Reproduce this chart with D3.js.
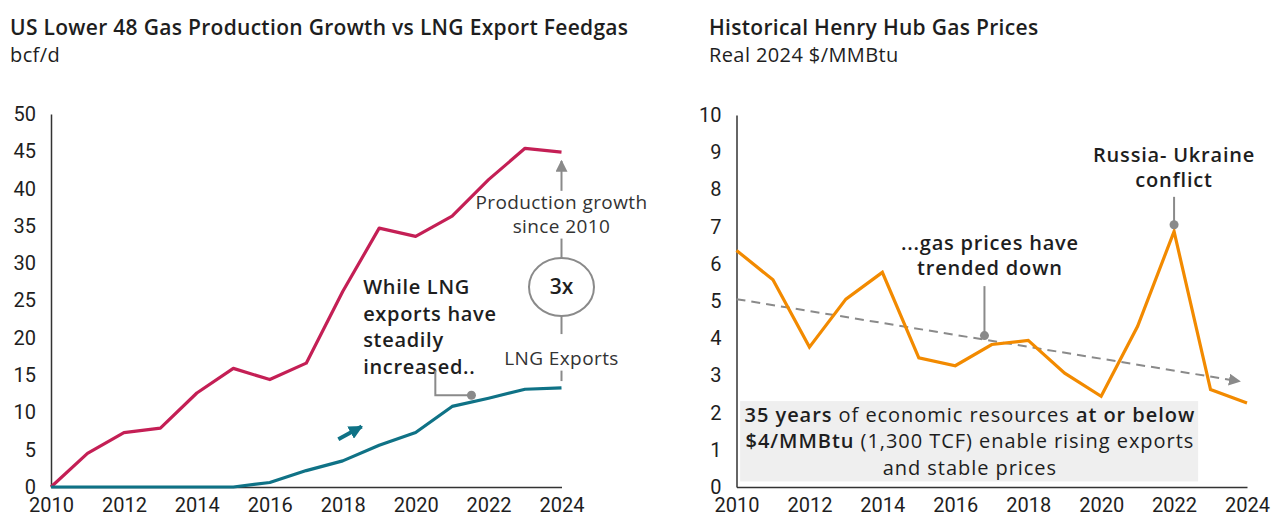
<!DOCTYPE html>
<html><head><meta charset="utf-8">
<script src="https://cdn.jsdelivr.net/npm/d3@7"></script>
<style>
html,body{margin:0;padding:0;background:#fff;}
svg{display:block;font-family:"Open Sans", Roboto, sans-serif;}
</style></head>
<body><svg id="c" width="1273" height="518"></svg>
<script>
// ---------- data ----------
const years = d3.range(2010, 2025);
const production = [0, 4.5, 7.3, 7.9, 12.6, 15.9, 14.4, 16.6, 26.2, 34.7, 33.6, 36.3, 41.2, 45.4, 44.9];
const lngExports = [0, 0, 0, 0, 0, 0, 0.6, 2.2, 3.5, 5.6, 7.3, 10.8, 11.9, 13.1, 13.3];
const henryHub = [6.36, 5.57, 3.76, 5.05, 5.77, 3.47, 3.26, 3.83, 3.94, 3.06, 2.44, 4.32, 6.87, 2.62, 2.26];
const trendStart = [2010, 5.05];
const trendEnd = [2023.8, 2.84];
const leftYTicks = [0, 5, 10, 15, 20, 25, 30, 35, 40, 45, 50];
const rightYTicks = [0, 1, 2, 3, 4, 5, 6, 7, 8, 9, 10];
const xTicks = [2010, 2012, 2014, 2016, 2018, 2020, 2022, 2024];

const svg = d3.select("#c");
const RED = "#c41f55", TEAL = "#0f7286", ORANGE = "#f28a00", GRAY = "#8a8a8a", TXT = "#1e1e1e";
const TICKFONT = 'Roboto, "Open Sans", sans-serif';

const defs = svg.append("defs");
function marker(id, color, w, h) {
  defs.append("marker").attr("id", id).attr("viewBox", "0 0 10 10")
    .attr("refX", 9).attr("refY", 5).attr("markerWidth", w).attr("markerHeight", h)
    .attr("markerUnits", "userSpaceOnUse").attr("orient", "auto")
    .append("path").attr("d", "M0,0 L10,5 L0,10 Z").attr("fill", color);
}
marker("arrGray", GRAY, 12, 12);
marker("arrTeal", TEAL, 14, 14);

// ---------- titles ----------
function title(x, t1, t2) {
  svg.append("text").attr("x", x).attr("y", 35).attr("font-size", 21).attr("font-weight", 600)
    .attr("letter-spacing", 0.3).attr("fill", TXT).text(t1);
  svg.append("text").attr("x", x).attr("y", 62).attr("font-size", 20)
    .attr("letter-spacing", 0.4).attr("fill", TXT).text(t2);
}
title(10, "US Lower 48 Gas Production Growth vs LNG Export Feedgas", "bcf/d");
title(709, "Historical Henry Hub Gas Prices", "Real 2024 $/MMBtu");

// ---------- axes helper ----------
function drawAxes(x, y, yt) {
  const g = svg.append("g");
  g.append("g").attr("transform", `translate(0,${y(0)})`)
    .call(d3.axisBottom(x).tickValues(xTicks).tickFormat(d3.format("d")).tickSize(0).tickPadding(11))
    .call(a => a.select(".domain").attr("stroke", "#333").attr("stroke-width", 1.5))
    .call(a => a.selectAll("text").attr("font-size", 20).attr("fill", TXT).attr("font-family", TICKFONT));
  g.append("g").attr("transform", `translate(${x(2010)},0)`)
    .call(d3.axisLeft(y).tickValues(yt).tickFormat(d3.format("d")).tickSize(0).tickPadding(15))
    .call(a => a.select(".domain").attr("stroke", "#333").attr("stroke-width", 1.5))
    .call(a => a.selectAll("text").attr("font-size", 20).attr("fill", TXT).attr("font-family", TICKFONT));
}

// ---------- LEFT CHART ----------
const xL = d3.scaleLinear().domain([2010, 2024]).range([51, 561.5]);
const yL = d3.scaleLinear().domain([0, 50]).range([487, 114]);
drawAxes(xL, yL, leftYTicks);

const lineL = d3.line().x((d, i) => xL(years[i])).y(d => yL(d));
svg.append("path").datum(production).attr("d", lineL).attr("fill", "none")
  .attr("stroke", RED).attr("stroke-width", 3.2).attr("stroke-linejoin", "round");
svg.append("path").datum(lngExports).attr("d", lineL).attr("fill", "none")
  .attr("stroke", TEAL).attr("stroke-width", 3.2).attr("stroke-linejoin", "round");

// annotation: while LNG exports...
const wl = ["While LNG", "exports have", "steadily", "increased.."];
wl.forEach((t, i) => svg.append("text").attr("x", xL(2018.56)).attr("y", yL(25.9) + i * 26.8)
  .attr("font-size", 20).attr("font-weight", 600).attr("letter-spacing", 0.7).attr("fill", TXT).text(t));
const cx1 = xL(2020.54), cx2 = xL(2021.53), cyTop = yL(15.6), cyDot = yL(12.3);
svg.append("path").attr("d", `M${cx1},${cyTop} V${cyDot} H${cx2}`).attr("fill", "none")
  .attr("stroke", GRAY).attr("stroke-width", 2);
svg.append("circle").attr("cx", cx2).attr("cy", cyDot).attr("r", 4.5).attr("fill", GRAY);

// small teal arrow
svg.append("line").attr("x1", xL(2017.88)).attr("y1", yL(6.4)).attr("x2", xL(2018.52)).attr("y2", yL(8.1))
  .attr("stroke", TEAL).attr("stroke-width", 4).attr("marker-end", "url(#arrTeal)");

// 3x annotation
const ax = xL(2024);
svg.append("line").attr("x1", ax).attr("x2", ax).attr("y1", yL(39.7)).attr("y2", yL(43.7))
  .attr("stroke", GRAY).attr("stroke-width", 2).attr("marker-end", "url(#arrGray)");
[["Production growth", 38.1], ["since 2010", 34.9], ["LNG Exports", 17.3]].forEach(([t, v]) =>
  svg.append("text").attr("x", ax).attr("y", yL(v)).attr("dy", "0.35em").attr("text-anchor", "middle")
    .attr("font-size", 19).attr("letter-spacing", 0.4).attr("fill", "#333").text(t));
svg.append("line").attr("x1", ax).attr("x2", ax).attr("y1", yL(33.3)).attr("y2", yL(30.7))
  .attr("stroke", GRAY).attr("stroke-width", 2);
svg.append("ellipse").attr("cx", ax).attr("cy", yL(26.8)).attr("rx", 32.5).attr("ry", 29)
  .attr("fill", "none").attr("stroke", GRAY).attr("stroke-width", 2);
svg.append("text").attr("x", ax).attr("y", yL(26.8)).attr("dy", "0.35em").attr("text-anchor", "middle")
  .attr("font-size", 21).attr("font-weight", 600).attr("fill", TXT).text("3x");
svg.append("line").attr("x1", ax).attr("x2", ax).attr("y1", yL(22.9)).attr("y2", yL(20.5))
  .attr("stroke", GRAY).attr("stroke-width", 2);
svg.append("line").attr("x1", ax).attr("x2", ax).attr("y1", yL(15.6)).attr("y2", yL(14.2))
  .attr("stroke", GRAY).attr("stroke-width", 2);

// ---------- RIGHT CHART ----------
const xR = d3.scaleLinear().domain([2010, 2024]).range([736.5, 1247]);
const yR = d3.scaleLinear().domain([0, 10]).range([487, 115]);

// gray box
svg.append("rect").attr("x", xR(2010.1)).attr("y", yR(2.31)).attr("width", xR(2022.66) - xR(2010.1))
  .attr("height", yR(0.15) - yR(2.31)).attr("fill", "#efefef");
const boxLines = [
  [["35 years", 600], [" of economic resources ", 400], ["at or below", 600]],
  [["$4/MMBtu", 600], [" (1,300 TCF) enable rising exports", 400]],
  [["and stable prices", 400]]
];
boxLines.forEach((ln, i) => {
  const t = svg.append("text").attr("x", xR(2016.4)).attr("y", yR(1.94) + i * 26.6).attr("dy", "0.35em")
    .attr("text-anchor", "middle").attr("font-size", 20).attr("letter-spacing", 0.95).attr("fill", TXT);
  ln.forEach(([s, w]) => t.append("tspan").attr("font-weight", w).text(s));
});

drawAxes(xR, yR, rightYTicks);

// trend line
svg.append("line").attr("x1", xR(trendStart[0])).attr("y1", yR(trendStart[1]))
  .attr("x2", xR(trendEnd[0])).attr("y2", yR(trendEnd[1]))
  .attr("stroke", GRAY).attr("stroke-width", 2).attr("stroke-dasharray", "9,6")
  .attr("marker-end", "url(#arrGray)");

const lineR = d3.line().x((d, i) => xR(years[i])).y(d => yR(d));
svg.append("path").datum(henryHub).attr("d", lineR).attr("fill", "none")
  .attr("stroke", ORANGE).attr("stroke-width", 3.2).attr("stroke-linejoin", "miter");

// annotations right
const tdx = xR(2016.8);
svg.append("line").attr("x1", tdx).attr("x2", tdx).attr("y1", yR(5.4)).attr("y2", yR(4.07))
  .attr("stroke", GRAY).attr("stroke-width", 2);
svg.append("circle").attr("cx", tdx).attr("cy", yR(4.07)).attr("r", 4.5).attr("fill", GRAY);
[["...gas prices have", 6.55], ["trended down", 5.88]].forEach(([t, v]) =>
  svg.append("text").attr("x", xR(2016.95)).attr("y", yR(v)).attr("dy", "0.35em").attr("text-anchor", "middle")
    .attr("font-size", 20).attr("font-weight", 600).attr("letter-spacing", 0.8).attr("fill", TXT).text(t));

const rux = xR(2022);
svg.append("line").attr("x1", rux).attr("x2", rux).attr("y1", yR(7.8)).attr("y2", yR(7.05))
  .attr("stroke", GRAY).attr("stroke-width", 2);
svg.append("circle").attr("cx", rux).attr("cy", yR(7.05)).attr("r", 4.5).attr("fill", GRAY);
[["Russia- Ukraine", 8.93], ["conflict", 8.26]].forEach(([t, v]) =>
  svg.append("text").attr("x", rux).attr("y", yR(v)).attr("dy", "0.35em").attr("text-anchor", "middle")
    .attr("font-size", 20).attr("font-weight", 600).attr("letter-spacing", 0.8).attr("fill", TXT).text(t));
</script></body></html>
